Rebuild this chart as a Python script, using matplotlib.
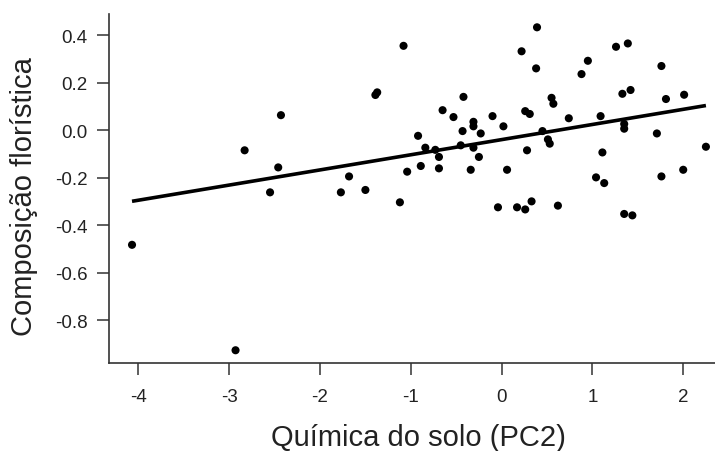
import numpy as np
import matplotlib
matplotlib.use("Agg")
import matplotlib.pyplot as plt

plt.rcParams['font.family'] = ['Liberation Sans', 'DejaVu Sans']

# Soil chemistry axis (PC2) and floristic composition scores
pc2 = [-4.07, -2.93, -1.08, -1.39, -1.37, -2.43, -2.83, -2.46, -2.55, -1.68,
       -1.77, -1.50, -1.12, -1.04, 0.39, 0.22, 0.38, 1.26, 1.39, 0.95,
       0.88, 1.76, -0.42, -0.65, -0.53, -0.31, -0.31, -0.10, 0.02, -0.43,
       -0.23, -0.92, -0.84, -0.73, -0.69, -0.45, -0.31, -0.25, -0.89, -0.69,
       -0.34, 0.06, 0.28, 0.26, 0.31, 0.55, 0.57, 0.45, 0.51, 0.53,
       0.74, 1.09, 1.11, 1.04, 1.13, 1.33, 1.42, 1.35, 1.35, 1.71,
       1.81, 2.01, 2.25, 1.76, 2.00, -0.04, 0.17, 0.26, 0.33, 0.62,
       1.35, 1.44]
composicao = [-0.482, -0.926, 0.356, 0.149, 0.160, 0.064, -0.084, -0.156, -0.261, -0.194,
              -0.261, -0.251, -0.303, -0.174, 0.434, 0.333, 0.261, 0.352, 0.366, 0.293,
              0.237, 0.271, 0.141, 0.085, 0.056, 0.036, 0.017, 0.060, 0.017, -0.003,
              -0.013, -0.023, -0.073, -0.082, -0.112, -0.063, -0.073, -0.112, -0.150, -0.160,
              -0.166, -0.166, -0.084, 0.081, 0.069, 0.137, 0.112, -0.003, -0.038, -0.056,
              0.051, 0.060, -0.093, -0.198, -0.222, 0.154, 0.170, 0.027, 0.007, -0.013,
              0.132, 0.150, -0.069, -0.194, -0.166, -0.324, -0.324, -0.333, -0.299, -0.317,
              -0.352, -0.358]

# Fitted linear model: intercept and slope
fit_intercept = -0.039
fit_slope = 0.0638

x_ticks = [-4, -3, -2, -1, 0, 1, 2]
y_ticks = [0.4, 0.2, 0.0, -0.2, -0.4, -0.6, -0.8]

fig = plt.figure(figsize=(7.15, 4.52), dpi=100)
ax = fig.add_axes([0.1529, 0.194, 0.8471, 0.7728])

ax.scatter(pc2, composicao, s=34, color='black', edgecolors='none', zorder=3)

xs = np.array([min(pc2), max(pc2)])
ax.plot(xs, fit_intercept + fit_slope * xs, color='black', lw=2.6, zorder=2,
        solid_capstyle='butt')

ax.set_xlim(-4.32, 2.35)
ax.set_ylim(-0.981, 0.49)

ax.set_xticks(x_ticks)
ax.set_xticklabels([str(t) for t in x_ticks])
ax.set_yticks(y_ticks)
ax.set_yticklabels([f"{t:.1f}" for t in y_ticks])

for side in ('top', 'right'):
    ax.spines[side].set_visible(False)
for side in ('left', 'bottom'):
    ax.spines[side].set_linewidth(1.2)
    ax.spines[side].set_color('#333333')

ax.tick_params(axis='both', length=8.5, width=1.1, color='#333333',
               labelsize=13.5, labelcolor='#222222')
ax.tick_params(axis='y', pad=7)
ax.tick_params(axis='x', pad=9)

ax.set_xlabel('Química do solo (PC2)', fontsize=21, color='#222222', va='baseline')
ax.set_ylabel('Composição florística', fontsize=21, color='#222222')
ax.xaxis.set_label_coords(0.5097, -0.234)
ax.yaxis.set_label_coords(-0.118, 0.479)

fig.savefig('out.png', dpi=100)
